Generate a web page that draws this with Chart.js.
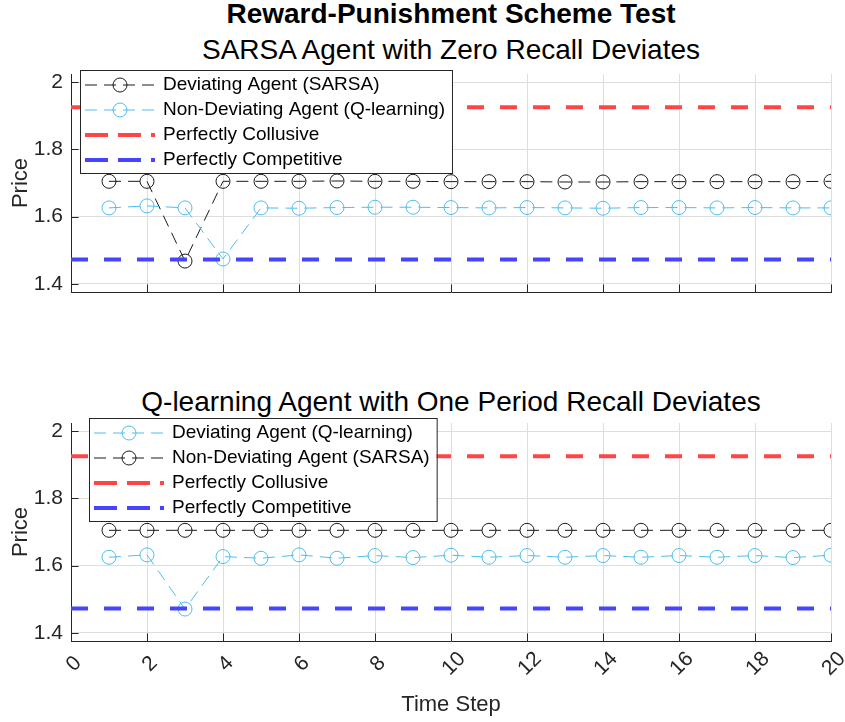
<!DOCTYPE html>
<html>
<head>
<meta charset="utf-8">
<script src="https://cdn.jsdelivr.net/npm/chart.js@4.4.0/dist/chart.umd.min.js"></script>
<style>
  body { margin: 0; background: #fff; font-family: "Liberation Sans", Arial, sans-serif; }
  #wrap { position: relative; width: 845px; height: 722px; overflow: hidden; }
  .ttl { position: absolute; left: 71px; width: 760px; text-align: center; color: #000;
         white-space: nowrap; font-size: 28px; line-height: 28px; }
  .main { top: 0; font-weight: bold; }
  canvas { position: absolute; left: 0; }
</style>
</head>
<body>
<div id="wrap">
  <div class="ttl main">Reward-Punishment Scheme Test</div>
  <div class="ttl" style="top:36px">SARSA Agent with Zero Recall Deviates</div>
  <canvas id="topChart" width="845" height="245" style="top:60px"></canvas>
  <div class="ttl" style="top:388px">Q-learning Agent with One Period Recall Deviates</div>
  <canvas id="bottomChart" width="845" height="317" style="top:405px"></canvas>
</div>
<script>
// ---------- data ----------
const steps = [1, 2, 3, 4, 5, 6, 7, 8, 9, 10, 11, 12, 13, 14, 15, 16, 17, 18, 19, 20];

// SARSA deviates (zero recall)
const sarsaDeviating = [1.705, 1.705, 1.468, 1.705, 1.705, 1.705, 1.706, 1.705, 1.705, 1.704,
                        1.704, 1.704, 1.703, 1.703, 1.704, 1.704, 1.704, 1.704, 1.704, 1.705];
const qNonDeviating  = [1.626, 1.632, 1.626, 1.474, 1.626, 1.625, 1.627, 1.628, 1.628, 1.627,
                        1.626, 1.627, 1.626, 1.625, 1.627, 1.627, 1.626, 1.627, 1.626, 1.626];

// Q-learning deviates (one period recall)
const qDeviating        = [1.625, 1.632, 1.471, 1.627, 1.622, 1.632, 1.622, 1.630, 1.624, 1.631,
                           1.625, 1.630, 1.625, 1.630, 1.625, 1.630, 1.625, 1.630, 1.624, 1.631];
const sarsaNonDeviating = [1.705, 1.705, 1.705, 1.705, 1.705, 1.705, 1.705, 1.705, 1.705, 1.705,
                           1.705, 1.705, 1.705, 1.705, 1.705, 1.705, 1.705, 1.705, 1.705, 1.705];

// benchmark prices, drawn across the whole time axis
const benchX = [0, 20];
const collusivePrice = 1.9249;
const competitivePrice = 1.4729;

const xTicks = [0, 2, 4, 6, 8, 10, 12, 14, 16, 18, 20];
const yTicks = [1.4, 1.6, 1.8, 2];

// ---------- styles ----------
const FONT = '"Liberation Sans", Arial, sans-serif';
const AXIS = '#262626';
const GRID = '#dedede';
const BLACK = '#1a1a1a';
const CYAN = '#4dbeee';
const RED = '#ff4545';
const BLUE = '#4545ff';

const pts = (arr) => steps.map((x, i) => ({ x, y: arr[i] }));

function agent(label, arr, color, order) {
  return {
    label, data: pts(arr), order,
    borderColor: color, borderWidth: 1, borderDash: [12, 7],
    pointRadius: 7, pointHoverRadius: 7, pointBorderWidth: 1,
    pointBorderColor: color, pointBackgroundColor: 'rgba(0,0,0,0)',
    fill: false, tension: 0
  };
}
function bench(label, price, color, order) {
  return {
    label, order, data: benchX.map(x => ({ x, y: price })),
    borderColor: color, borderWidth: 4, borderDash: [17, 16],
    pointRadius: 0, fill: false
  };
}

// MATLAB-style ticks pointing into the axes
const innerTicks = {
  id: 'innerTicks',
  beforeDatasetsDraw(chart) {
    const { ctx, chartArea: a, scales: { x, y } } = chart;
    const len = 7.6;
    ctx.save();
    ctx.strokeStyle = AXIS;
    ctx.lineWidth = 1;
    ctx.beginPath();
    x.ticks.forEach(t => {
      const px = Math.round(x.getPixelForValue(t.value)) + 0.5;
      ctx.moveTo(px, a.bottom); ctx.lineTo(px, a.bottom - len);
    });
    y.ticks.forEach(t => {
      const py = Math.round(y.getPixelForValue(t.value)) + 0.5;
      ctx.moveTo(a.left, py); ctx.lineTo(a.left + len, py);
    });
    ctx.stroke();
    ctx.restore();
  }
};

// x tick labels turned 45 degrees, centred under their tick
const slantLabels = {
  id: 'slantLabels',
  afterDraw(chart, args, opts) {
    if (!opts.show) return;
    const { ctx, chartArea: a, scales: { x } } = chart;
    ctx.save();
    ctx.font = '21px ' + FONT;
    ctx.fillStyle = AXIS;
    ctx.textAlign = 'center';
    ctx.textBaseline = 'middle';
    x.ticks.forEach(t => {
      ctx.save();
      ctx.translate(x.getPixelForValue(t.value) + 3, a.bottom + 23);
      ctx.rotate(-Math.PI / 4);
      ctx.fillText(String(t.value), 0, 0);
      ctx.restore();
    });
    ctx.restore();
  }
};

// boxed legend in the upper-left corner of the plot area
const boxLegend = {
  id: 'boxLegend',
  afterDraw(chart, args, opts) {
    const { ctx, chartArea: a } = chart;
    const sets = chart.data.datasets;
    ctx.save();
    ctx.font = '19px ' + FONT;
    const left = a.left + opts.dx, top = a.top + opts.dy;
    const textX = left + 83;
    const w = 83 + Math.max(...sets.map(d => ctx.measureText(d.label).width)) + 7;
    const h = 25 * sets.length + 3;
    ctx.fillStyle = '#fff';
    ctx.fillRect(left, top, w, h);
    ctx.strokeStyle = AXIS;
    ctx.lineWidth = 1;
    ctx.strokeRect(left + 0.5, top + 0.5, w, h);
    sets.forEach((d, i) => {
      const cy = top + 15 + 25 * i;
      ctx.strokeStyle = d.borderColor;
      ctx.lineWidth = d.borderWidth;
      ctx.setLineDash(d.borderWidth > 2 ? [23, 10] : d.borderDash);
      ctx.beginPath();
      ctx.moveTo(left + 5, cy); ctx.lineTo(left + 75, cy);
      ctx.stroke();
      ctx.setLineDash([]);
      if (d.pointRadius) {
        ctx.lineWidth = 1;
        ctx.beginPath();
        ctx.arc(left + 40, cy, d.pointRadius, 0, 2 * Math.PI);
        ctx.stroke();
      }
      ctx.fillStyle = '#000';
      ctx.textBaseline = 'middle';
      ctx.fillText(d.label, textX, cy);
    });
    ctx.restore();
  }
};

function makeChart(id, datasets, showX, padding, legendPos) {
  return new Chart(document.getElementById(id), {
    type: 'line',
    data: { datasets },
    plugins: [innerTicks, slantLabels, boxLegend],
    options: {
      responsive: false,
      devicePixelRatio: 1,
      animation: false,
      events: [],
      layout: { padding, autoPadding: false },
      plugins: {
        legend: { display: false },
        tooltip: { enabled: false },
        boxLegend: legendPos,
        slantLabels: { show: showX }
      },
      scales: {
        x: {
          type: 'linear', min: 0, max: 20,
          afterBuildTicks: s => { s.ticks = xTicks.map(v => ({ value: v })); },
          afterFit: s => {
            s.height = showX ? 81 : 0;
            s.paddingLeft = s.paddingRight = 0;
          },
          grid: { color: GRID, drawTicks: false },
          border: { color: AXIS, width: 1 },
          ticks: { display: false },
          title: {
            display: showX, text: 'Time Step', color: AXIS,
            font: { family: FONT, size: 22 }, padding: { top: 0, bottom: 4 }
          }
        },
        y: {
          type: 'linear', min: 1.376, max: 2.024,
          afterBuildTicks: s => { s.ticks = yTicks.map(v => ({ value: v })); },
          afterFit: s => {
            s.width = 71;
            s.paddingTop = s.paddingBottom = 0;
          },
          grid: { color: GRID, drawTicks: false },
          border: { color: AXIS, width: 1 },
          ticks: {
            padding: 8, color: AXIS, font: { family: FONT, size: 21 },
            callback: v => String(v)
          },
          title: {
            display: true, text: 'Price', color: AXIS,
            font: { family: FONT, size: 22 }, padding: { top: 8, bottom: 0 }
          }
        }
      }
    }
  });
}

makeChart('topChart', [
  agent('Deviating Agent (SARSA)', sarsaDeviating, BLACK, 3),
  agent('Non-Deviating Agent (Q-learning)', qNonDeviating, CYAN, 2),
  bench('Perfectly Collusive', collusivePrice, RED, 1),
  bench('Perfectly Competitive', competitivePrice, BLUE, 0)
], false, { top: 14, right: 14, bottom: 13, left: 0 }, { dx: 9, dy: -4 });

makeChart('bottomChart', [
  agent('Deviating Agent (Q-learning)', qDeviating, CYAN, 3),
  agent('Non-Deviating Agent (SARSA)', sarsaNonDeviating, BLACK, 2),
  bench('Perfectly Collusive', collusivePrice, RED, 1),
  bench('Perfectly Competitive', competitivePrice, BLUE, 0)
], true, { top: 18, right: 14, bottom: 0, left: 0 }, { dx: 18, dy: -5 });
</script>
</body>
</html>
